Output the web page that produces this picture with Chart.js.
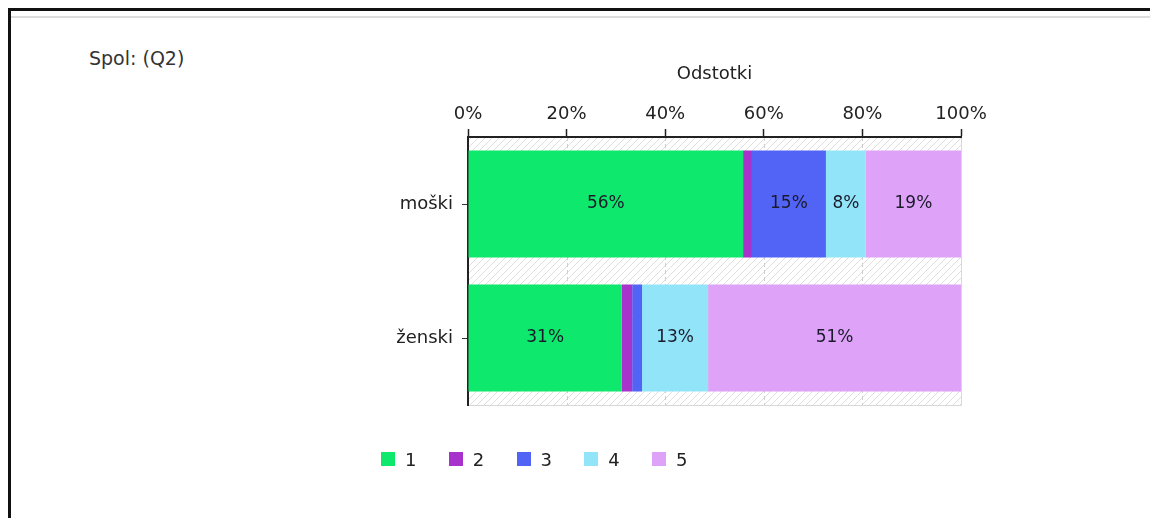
<!DOCTYPE html>
<html>
<head>
<meta charset="utf-8">
<script src="https://cdn.jsdelivr.net/npm/chart.js@4.4.0/dist/chart.umd.min.js"></script>
<style>
  html, body { margin: 0; padding: 0; background: #fff; width: 1150px; height: 518px; overflow: hidden; }
  .frame { position: absolute; left: 8px; top: 8px; width: 1200px; height: 600px;
           border-top: 3px solid #111; border-left: 3px solid #111; }
  .frame-line { position: absolute; left: 11px; top: 16px; width: 1139px; height: 2px; background: #dcdcdc; }
  .caption { position: absolute; left: 89px; top: 47px; font: 19px "DejaVu Sans", sans-serif;
             line-height: 22px; color: #333; }
  #chart { position: absolute; left: 0; top: 0; }
  #legend { position: absolute; left: 381px; top: 449px; display: flex;
            font: 18px "DejaVu Sans", sans-serif; color: #222; }
  #legend .item { display: flex; align-items: center; width: 67.75px; height: 20px; }
  #legend .box { width: 14px; height: 14px; margin-right: 10px; }
</style>
</head>
<body>
<div class="frame"></div>
<div class="frame-line"></div>
<div class="caption">Spol: (Q2)</div>
<canvas id="chart" width="1150" height="518"></canvas>
<div id="legend"></div>

<script>
// kategorije in odgovori (delež v %)
const categories = ['moški', 'ženski'];
const seriesNames = ['1', '2', '3', '4', '5'];
const odg1 = [55.8, 31.2];
const odg2 = [1.8, 2.1];
const odg3 = [15.0, 2.0];
const odg4 = [8.1, 13.4];
const odg5 = [19.3, 51.3];
const xTicks = [0, 20, 40, 60, 80, 100];

const seriesValues = [odg1, odg2, odg3, odg4, odg5];
const colors = ['#0ee86c', '#a832cc', '#5264f6', '#92e5f9', '#dea2f8'];

// --- ozadje: šrafura + črtkane mrežne črte ---
function makeHatch() {
    const c = document.createElement('canvas');
    c.width = 7; c.height = 7;
    const g = c.getContext('2d');
    g.strokeStyle = '#dedede';
    g.lineWidth = 1;
    g.beginPath();
    g.moveTo(-1, 8); g.lineTo(8, -1);
    g.moveTo(-1, 1); g.lineTo(1, -1);
    g.moveTo(6, 8); g.lineTo(8, 6);
    g.stroke();
    return c;
}

const plotBackground = {
    id: 'plotBackground',
    beforeDraw(chart) {
        const { ctx, chartArea: a, scales } = chart;
        ctx.save();
        ctx.fillStyle = ctx.createPattern(makeHatch(), 'repeat');
        ctx.fillRect(a.left, a.top, a.right - a.left, a.bottom - a.top);

        ctx.strokeStyle = '#cfcfcf';
        ctx.lineWidth = 1;
        ctx.setLineDash([4, 3]);
        xTicks.slice(1, -1).forEach(v => {
            const x = Math.round(scales.x.getPixelForValue(v)) + 0.5;
            ctx.beginPath();
            ctx.moveTo(x, a.top);
            ctx.lineTo(x, a.bottom);
            ctx.stroke();
        });
        ctx.setLineDash([]);
        ctx.strokeStyle = '#d8d8d8';
        ctx.beginPath();
        ctx.moveTo(a.right + 0.5, a.top);
        ctx.lineTo(a.right + 0.5, a.bottom + 0.5);
        ctx.lineTo(a.left, a.bottom + 0.5);
        ctx.stroke();
        ctx.restore();
    }
};

// --- oznake vrednosti na stolpcih ---
const barLabels = {
    id: 'barLabels',
    afterDatasetsDraw(chart) {
        const ctx = chart.ctx;
        ctx.save();
        ctx.font = '17px "DejaVu Sans", sans-serif';
        ctx.fillStyle = '#1a1a2a';
        ctx.textAlign = 'center';
        ctx.textBaseline = 'middle';
        chart.data.datasets.forEach((ds, i) => {
            chart.getDatasetMeta(i).data.forEach((bar, j) => {
                const v = ds.data[j];
                if (v < 5) return;
                ctx.fillText(Math.round(v) + '%', (bar.x + bar.base) / 2, bar.y);
            });
        });
        ctx.restore();
    }
};

const font18 = { family: 'DejaVu Sans', size: 18 };

new Chart(document.getElementById('chart'), {
    type: 'bar',
    data: {
        labels: categories,
        datasets: seriesNames.map((name, i) => ({
            label: name,
            data: seriesValues[i],
            backgroundColor: colors[i],
            borderWidth: 0,
            categoryPercentage: 0.8,
            barPercentage: 1.0
        }))
    },
    options: {
        indexAxis: 'y',
        responsive: false,
        animation: false,
        layout: { padding: { left: 388, right: 189, top: 60, bottom: 113 } },
        plugins: { legend: { display: false }, tooltip: { enabled: false } },
        scales: {
            x: {
                position: 'top',
                stacked: true,
                min: 0,
                max: 100,
                afterFit: s => { s.height = 77; },
                afterBuildTicks: s => { s.ticks = xTicks.map(v => ({ value: v })); },
                ticks: { callback: v => v + '%', color: '#222', font: font18, padding: 4,
                         maxRotation: 0, autoSkip: false },
                grid: { drawOnChartArea: false, tickLength: 8, tickColor: '#222', tickWidth: 1.5 },
                border: { color: '#222', width: 2 },
                title: { display: true, text: 'Odstotki', color: '#222', font: font18,
                         padding: { top: 4, bottom: 0 } }
            },
            y: {
                stacked: true,
                afterFit: s => { s.width = 80; },
                ticks: { color: '#222', font: font18, padding: 9 },
                grid: { drawOnChartArea: false, offset: false, tickLength: 6, tickColor: '#333' },
                border: { color: '#222', width: 2 }
            }
        }
    },
    plugins: [plotBackground, barLabels]
});

// legenda
const legend = document.getElementById('legend');
seriesNames.forEach((name, i) => {
    const item = document.createElement('div');
    item.className = 'item';
    item.innerHTML = `<span class="box" style="background:${colors[i]}"></span><span>${name}</span>`;
    legend.appendChild(item);
});
</script>
</body>
</html>
